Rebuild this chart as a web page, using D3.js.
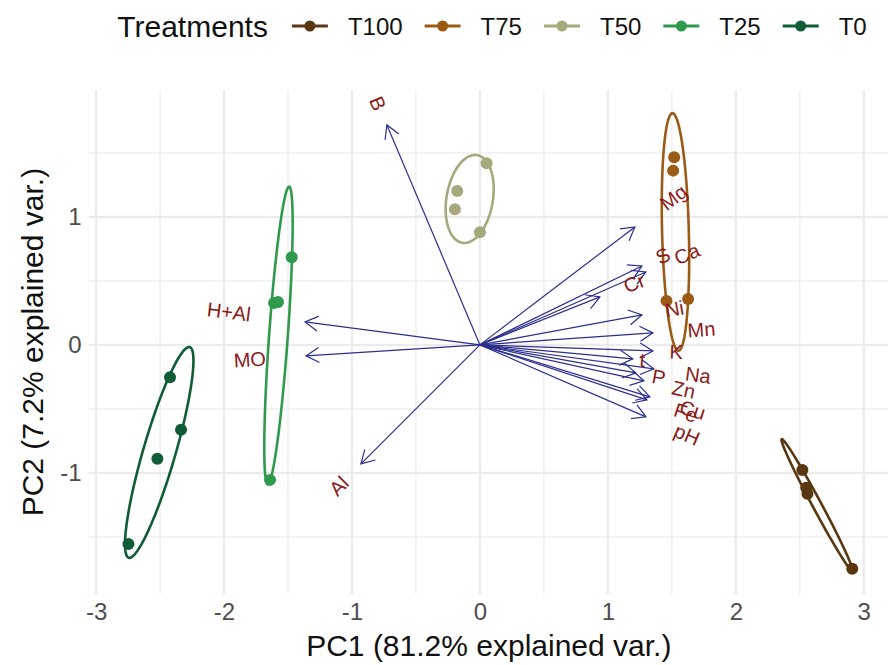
<!DOCTYPE html>
<html>
<head>
<meta charset="utf-8">
<script src="https://cdn.jsdelivr.net/npm/d3@7"></script>
<style>
  html, body { margin: 0; padding: 0; background: #ffffff; }
  svg { display: block; font-family: "Liberation Sans", Arial, Helvetica, sans-serif; }
</style>
</head>
<body>
<svg id="chart" width="888" height="665"></svg>
<script>
// Treatment groups and their colours
const groups = ["T100", "T75", "T50", "T25", "T0"];
const groupColors = ["#583711", "#9b5b14", "#a7a87c", "#2f9a4d", "#0f5c36"];

// PCA scores (PC1, PC2) per sample
const scoreGroup = ["T100","T100","T100","T100","T75","T75","T75","T75","T50","T50","T50","T50","T25","T25","T25","T25","T0","T0","T0","T0"];
const scorePC1 = [2.52, 2.55, 2.56, 2.91, 1.518, 1.51, 1.458, 1.627, 0.052, -0.177, -0.195, 0.0, -1.471, -1.609, -1.578, -1.64, -2.422, -2.336, -2.521, -2.747];
const scorePC2 = [-0.977, -1.117, -1.164, -1.75, 1.466, 1.362, 0.344, 0.359, 1.419, 1.203, 1.06, 0.88, 0.685, 0.328, 0.336, -1.055, -0.252, -0.664, -0.889, -1.557];

// Variable loadings (arrow tips)
const varNames = ["B", "Mg", "S", "Ca", "Cr", "Ni", "Mn", "K", "t", "P", "Na", "Zn", "Cu", "Fe", "pH", "H+Al", "MO", "Al"];
const varPC1 = [-0.727, 1.211, 1.266, 1.297, 0.9375, 1.266, 1.352, 1.352, 1.195, 1.219, 1.359, 1.281, 1.328, 1.305, 1.297, -1.367, -1.359, -0.93];
const varPC2 = [1.719, 0.922, 0.617, 0.57, 0.375, 0.234, 0.094, -0.047, -0.109, -0.219, -0.1875, -0.281, -0.406, -0.43, -0.5625, 0.18, -0.086, -0.93];

// Axis ticks
const xTicks = [-3, -2, -1, 0, 1, 2, 3];
const yTicks = [-1, 0, 1];
const xTitle = "PC1 (81.2% explained var.)";
const yTitle = "PC2 (7.2% explained var.)";
const legendTitle = "Treatments";

const ellipseProb = 0.68;
const varnameAdjust = 3.5;

const svg = d3.select("#chart");
const color = d3.scaleOrdinal().domain(groups).range(groupColors);

// ---- normal-probability ellipses (covariance based) ----
const ed = Math.sqrt(-2 * Math.log(1 - ellipseProb)); // sqrt(qchisq(p, 2))
const theta = d3.range(100).map(i => -Math.PI + 2 * Math.PI * i / 99);
const ellipses = groups.map(g => {
  const idx = d3.range(scoreGroup.length).filter(i => scoreGroup[i] === g);
  const xs = idx.map(i => scorePC1[i]), ys = idx.map(i => scorePC2[i]);
  const mx = d3.mean(xs), my = d3.mean(ys);
  const n = xs.length;
  const a = d3.sum(xs, v => (v - mx) ** 2) / (n - 1);
  const c = d3.sum(ys, v => (v - my) ** 2) / (n - 1);
  const b = d3.sum(xs.map((v, k) => (v - mx) * (ys[k] - my))) / (n - 1);
  const r11 = Math.sqrt(a), r12 = b / r11, r22 = Math.sqrt(c - r12 * r12);
  const pts = theta.map(t => [
    mx + ed * Math.cos(t) * r11,
    my + ed * (Math.cos(t) * r12 + Math.sin(t) * r22)
  ]);
  return { group: g, pts };
});

// ---- data extent with 5% expansion ----
const allX = scorePC1.concat(varPC1, [0], ellipses.flatMap(e => e.pts.map(p => p[0])));
const allY = scorePC2.concat(varPC2, [0], ellipses.flatMap(e => e.pts.map(p => p[1])));
let [x0, x1] = d3.extent(allX), [y0, y1] = d3.extent(allY);
const ex = (x1 - x0) * 0.05, ey = (y1 - y0) * 0.05;
x0 -= ex; x1 += ex; y0 -= ey; y1 += ey;

// equal aspect panel
const panelLeft = 88.6, panelTop = 90.3, W = 800.4;
const H = W * (y1 - y0) / (x1 - x0);
const x = d3.scaleLinear().domain([x0, x1]).range([panelLeft, panelLeft + W]);
const y = d3.scaleLinear().domain([y0, y1]).range([panelTop + H, panelTop]);

// ---- grid ----
const grid = svg.append("g");
const minorX = d3.range(Math.ceil(x0 * 2) / 2, x1, 0.5).filter(v => Math.abs(v % 1) > 0.01);
const minorY = d3.range(Math.ceil(y0 * 2) / 2, y1, 0.5).filter(v => Math.abs(v % 1) > 0.01);
grid.selectAll(".mx").data(minorX).join("line")
  .attr("x1", d => x(d)).attr("x2", d => x(d)).attr("y1", panelTop).attr("y2", panelTop + H)
  .attr("stroke", "#ededed").attr("stroke-width", 1.3);
grid.selectAll(".my").data(minorY).join("line")
  .attr("y1", d => y(d)).attr("y2", d => y(d)).attr("x1", panelLeft).attr("x2", panelLeft + W)
  .attr("stroke", "#ededed").attr("stroke-width", 1.3);
grid.selectAll(".Mx").data(xTicks).join("line")
  .attr("x1", d => x(d)).attr("x2", d => x(d)).attr("y1", panelTop).attr("y2", panelTop + H)
  .attr("stroke", "#ebebeb").attr("stroke-width", 2.4);
grid.selectAll(".My").data(yTicks).join("line")
  .attr("y1", d => y(d)).attr("y2", d => y(d)).attr("x1", panelLeft).attr("x2", panelLeft + W)
  .attr("stroke", "#ebebeb").attr("stroke-width", 2.4);

// ---- axes (text only) ----
const fmt = d => String(d);
const xAxis = d3.axisBottom(x).tickValues(xTicks).tickSize(0).tickPadding(9).tickFormat(fmt);
svg.append("g").attr("transform", `translate(0,${panelTop + H})`).call(xAxis)
  .call(g => g.select(".domain").remove())
  .call(g => g.selectAll("text").attr("font-size", 24).attr("fill", "#4d4d4d")
    .attr("font-family", "Liberation Sans, Arial, sans-serif"));
const yAxis = d3.axisLeft(y).tickValues(yTicks).tickSize(0).tickPadding(7).tickFormat(fmt);
svg.append("g").attr("transform", `translate(${panelLeft},0)`).call(yAxis)
  .call(g => g.select(".domain").remove())
  .call(g => g.selectAll("text").attr("font-size", 24).attr("fill", "#4d4d4d")
    .attr("font-family", "Liberation Sans, Arial, sans-serif"));

svg.append("text").attr("x", panelLeft + W / 2).attr("y", 656)
  .attr("text-anchor", "middle").attr("font-size", 30).attr("fill", "#111")
  .text(xTitle);
svg.append("text").attr("transform", `translate(43,${panelTop + H / 2}) rotate(-90)`)
  .attr("text-anchor", "middle").attr("font-size", 30).attr("fill", "#111")
  .text(yTitle);

// ---- ellipses ----
const line = d3.line().x(p => x(p[0])).y(p => y(p[1]));
svg.append("g").selectAll("path").data(ellipses).join("path")
  .attr("d", e => line(e.pts) + "Z")
  .attr("fill", "none").attr("stroke", e => color(e.group)).attr("stroke-width", 2.6);

// ---- points ----
svg.append("g").selectAll("circle").data(d3.range(scoreGroup.length)).join("circle")
  .attr("cx", i => x(scorePC1[i])).attr("cy", i => y(scorePC2[i])).attr("r", 6)
  .attr("fill", i => color(scoreGroup[i]));

// ---- variable arrows ----
const arrowColor = "#2b2f8e";
const headLen = 15, headAng = Math.PI / 6;
const arrows = svg.append("g");
varNames.forEach((name, i) => {
  const tx = x(varPC1[i]), ty = y(varPC2[i]);
  const ox = x(0), oy = y(0);
  arrows.append("line").attr("x1", ox).attr("y1", oy).attr("x2", tx).attr("y2", ty)
    .attr("stroke", arrowColor).attr("stroke-width", 1.2);
  const ang = Math.atan2(ty - oy, tx - ox);
  const pts = [ang + Math.PI - headAng, ang + Math.PI + headAng]
    .map(a => [tx + headLen * Math.cos(a), ty + headLen * Math.sin(a)]);
  arrows.append("path")
    .attr("d", `M${pts[0][0]},${pts[0][1]}L${tx},${ty}L${pts[1][0]},${pts[1][1]}`)
    .attr("fill", "none").attr("stroke", arrowColor).attr("stroke-width", 1.2);
});

// ---- variable labels (rotated along arrow, pushed outward) ----
const labels = svg.append("g");
varNames.forEach((name, i) => {
  const vx = varPC1[i], vy = varPC2[i];
  const angle = Math.atan(vy / vx) * 180 / Math.PI;
  const hjust = (1 - varnameAdjust * Math.sign(vx)) / 2;
  const t = labels.append("text")
    .attr("font-size", 20).attr("fill", "#8b1a1a")
    .attr("dominant-baseline", "central")
    .text(name);
  const w = t.node().getComputedTextLength();
  t.attr("transform", `translate(${x(vx)},${y(vy)}) rotate(${-angle})`)
    .attr("x", -hjust * w);
});

// ---- legend ----
const legend = svg.append("g");
const ly = 26;
const lt = legend.append("text").attr("y", ly).attr("dominant-baseline", "central")
  .attr("font-size", 30).attr("fill", "#111").text(legendTitle);
const items = groups.map(g => {
  const t = legend.append("text").attr("y", ly).attr("dominant-baseline", "central")
    .attr("font-size", 24).attr("fill", "#111").text(g);
  return { g, t, w: t.node().getComputedTextLength() };
});
const keyW = 40, gapKL = 18, gapLK = 20, gapTitle = 22;
const titleW = lt.node().getComputedTextLength();
const totalW = titleW + gapTitle + d3.sum(items, it => keyW + gapKL + it.w) + gapLK * (items.length - 1);
let cx = 492 - totalW / 2;
lt.attr("x", cx);
cx += titleW + gapTitle;
items.forEach(it => {
  legend.append("line").attr("x1", cx + 2).attr("x2", cx + keyW - 2).attr("y1", ly).attr("y2", ly)
    .attr("stroke", color(it.g)).attr("stroke-width", 3);
  legend.append("circle").attr("cx", cx + keyW / 2).attr("cy", ly).attr("r", 5.5).attr("fill", color(it.g));
  it.t.attr("x", cx + keyW + gapKL);
  cx += keyW + gapKL + it.w + gapLK;
});
</script>
</body>
</html>
